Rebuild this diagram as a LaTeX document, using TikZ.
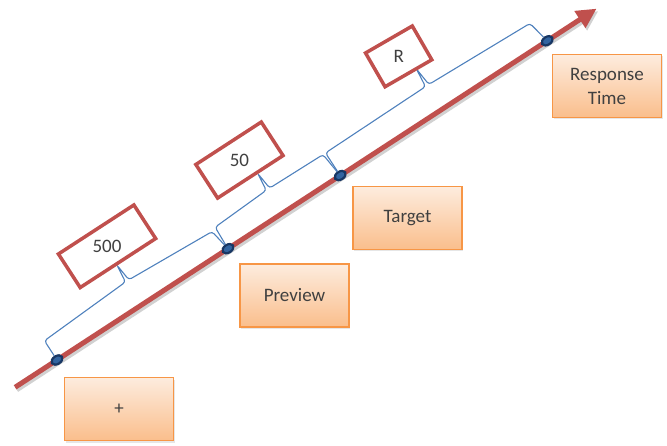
\documentclass[tikz,border=0pt]{standalone}
\usepackage{fontspec}
\setmainfont{Carlito}
\usetikzlibrary{arrows.meta,shapes.geometric,shadows}

\definecolor{axisred}{RGB}{192,80,77}
\definecolor{bracketblue}{RGB}{79,129,189}
\definecolor{dotdark}{RGB}{24,55,100}
\definecolor{dotfill}{RGB}{50,100,160}
\definecolor{eventline}{RGB}{247,150,70}
\definecolor{eventtop}{RGB}{253,236,222}
\definecolor{eventbottom}{RGB}{250,190,140}
\definecolor{labelgray}{RGB}{64,64,64}

\begin{document}
\begin{tikzpicture}[x=1pt,y=1pt,
	axisline/.style={draw=axisred,line width=5pt,-{Triangle[length=20pt,width=19pt]}},
	axisshadow/.style={draw=black,opacity=0.18,line width=5pt,-{Triangle[length=20pt,width=19pt]}},
	timedot/.style={ellipse,draw=dotdark,fill=dotfill,line width=2.2pt,minimum width=12pt,minimum height=8pt,inner sep=0pt,rotate=33},
	bracket/.style={draw=bracketblue,line width=1.1pt,rounded corners=3pt},
	cuebox/.style={draw=axisred,fill=white,line width=3.5pt,minimum height=40pt,inner sep=0pt,text=labelgray,font=\fontsize{19}{23}\selectfont},
	eventbox/.style={draw=eventline,line width=1.3pt,top color=eventtop,bottom color=eventbottom,minimum width=109pt,minimum height=63pt,text=labelgray,align=center,font=\fontsize{19}{24}\selectfont,drop shadow={opacity=0.2,shadow xshift=1pt,shadow yshift=-2pt}}]
	\useasboundingbox (0,0) rectangle (667,445);
	
	% time axis, turned along its own direction
	\begin{scope}[shift={(57,85)},rotate=33.07]
		\coordinate (tail) at (-50,0);
		\coordinate (head) at (644,0);
		\coordinate (tailshadow) at (-50,-3);
		\coordinate (headshadow) at (644,-3);
		\draw[axisshadow] (tailshadow) -- (headshadow);
		\draw[axisline] (tail) -- (head);
		
		\node[timedot] (fixdot) at (0,0) {};
		\node[timedot] (previewdot) at (204,0) {};
		\node[timedot] (targetdot) at (338,0) {};
		\node[timedot] (responsedot) at (585,0) {};
		
		% brackets between the time points
		\draw[bracket] (fixdot) -- (0,23) -- (100,28) -- (102,47) -- (104,28) -- (200,23) -- (previewdot);
		\draw[bracket] (previewdot) -- (205,25) -- (268,28) -- (270,47) -- (272,28) -- (335,27) -- (targetdot);
		\draw[bracket] (targetdot) -- (338,27) -- (458,28) -- (460,48) -- (462,28) -- (580,24) -- (responsedot);
		
		% durations
		\node[cuebox,minimum width=90pt,rotate=33] (cuefix) at (104,68) {\rotatebox{-33}{500}};
		\node[cuebox,minimum width=78pt,rotate=33] (cuepreview) at (262,68) {\rotatebox{-33}{50}};
		\node[cuebox,minimum width=54pt,minimum height=39pt,rotate=30] (cuetarget) at (452,68) {\rotatebox{-30}{R}};
	\end{scope}
	
	% events
	\node[eventbox] (fixbox) at (119,36) {+};
	\node[eventbox] (previewbox) at (294.5,149.5) {Preview};
	\node[eventbox] (targetbox) at (407.5,227) {Target};
	\node[eventbox] (responsebox) at (607,359) {Response\\Time};
\end{tikzpicture}
\end{document}
